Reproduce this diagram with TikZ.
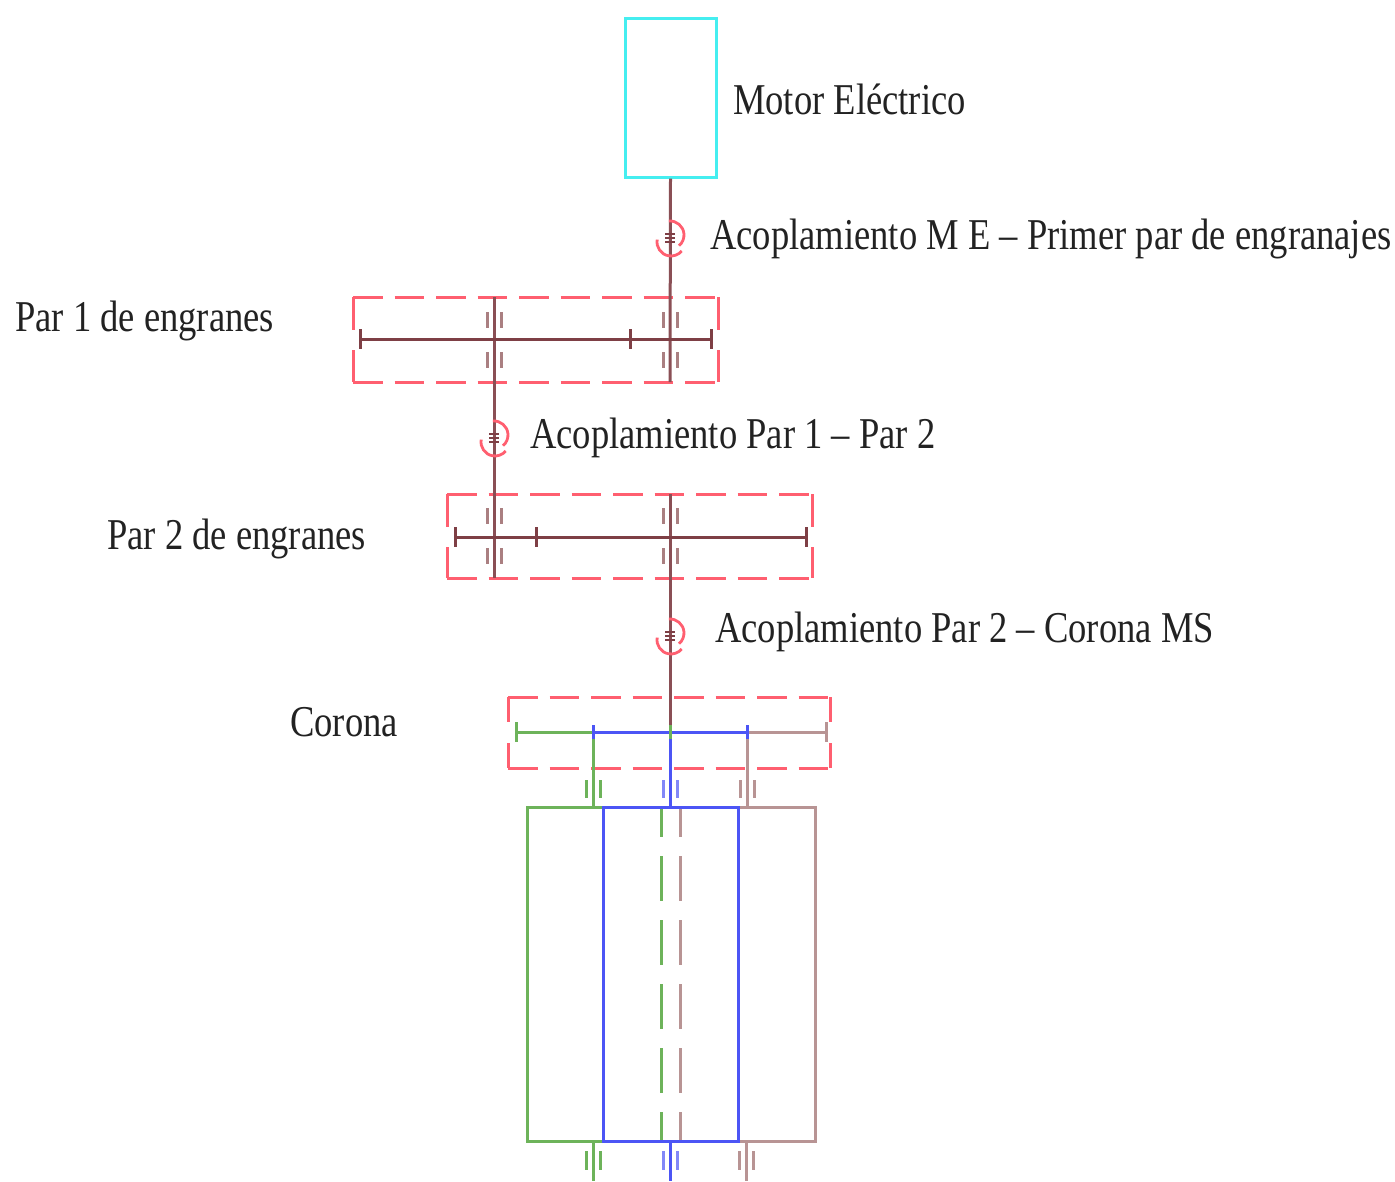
\documentclass[tikz,border=0pt]{standalone}
\usepackage{fontspec}
\setmainfont[FakeStretch=0.831]{Liberation Serif}
\definecolor{shaftc}{HTML}{8A4F55}
\definecolor{gearc}{HTML}{7E3F45}
\definecolor{redc}{HTML}{FF5F70}
\definecolor{cyanc}{HTML}{45EEF0}
\definecolor{greenc}{HTML}{6DB35A}
\definecolor{bluec}{HTML}{4C55F5}
\definecolor{brownc}{HTML}{B89494}
\definecolor{textc}{HTML}{222222}
\tikzset{
  x=1pt,y=-1pt,
  lbl/.style={anchor=base west,inner sep=0pt,text=textc,font=\fontsize{44}{48}\selectfont},
  shaft/.style={draw=shaftc,line width=3pt},
  gear/.style={draw=gearc,line width=3pt},
  brg/.style={line width=3pt,draw=#1},
  hdash/.style={draw=redc,line width=3pt,dash pattern=on 29.5pt off 12pt},
  vdash/.style={draw=redc,line width=3pt,dash pattern=on 33pt off 20pt},
  vdashc/.style={draw=redc,line width=3pt,dash pattern=on 25pt off 21pt},
  coup/.style={draw=redc,line width=2.8pt},
  solidc/.style={draw=#1,line width=3pt},
  axisd/.style={draw=#1,line width=3pt,dash pattern=on 45pt off 19pt,dash phase=15pt},
}
\newcommand{\brgpair}[4]{% x, y1, y2, colour
  \draw[brg=#4] (#1-6.5,#2)--(#1-6.5,#3);
  \draw[brg=#4] (#1+7,#2)--(#1+7,#3);}
\newcommand{\couplingmark}[2]{%
  \draw[coup] ([shift={(95:14pt)}]#1,#2-3) arc[start angle=95,end angle=-50,radius=14pt];
  \draw[coup] ([shift={(170:14pt)}]#1+1,#2+4) arc[start angle=170,end angle=320,radius=14pt];
  \foreach \d in {-4,0,4}{\draw[draw=gearc,line width=2.4pt] (#1-5,#2+\d)--(#1+5,#2+\d);}}
\begin{document}
\begin{tikzpicture}
\useasboundingbox (0,0) rectangle (1395,1181);
% motor
\node[draw=cyanc,line width=3pt,minimum width=91pt,minimum height=159pt,inner sep=0pt] (motor) at (670.5,97.5) {};
% labels
\node[lbl] (lm) at (733,114) {Motor Eléctrico};
\node[lbl] (la) at (710,249) {Acoplamiento M E – Primer par de engranajes};
\node[lbl] (lp1) at (15,331) {Par 1 de engranes};
\node[lbl] (lb) at (530,448) {Acoplamiento Par 1 – Par 2};
\node[lbl] (lp2) at (107,549) {Par 2 de engranes};
\node[lbl] (lc) at (715,642) {Acoplamiento Par 2 – Corona MS};
\node[lbl] (lco) at (290,736) {Corona};
% dashed boxes
\draw[hdash] (353,297)--(718,297); \draw[hdash] (353,382)--(718,382);
\draw[vdash] (353,297)--(353,382); \draw[vdash] (718,297)--(718,382);
\draw[hdash] (447,494)--(812,494); \draw[hdash] (447,578)--(812,578);
\draw[vdash] (447,494)--(447,578); \draw[vdash] (812,494)--(812,578);
\draw[hdash] (508,697)--(830,697); \draw[hdash] (508,768)--(830,768);
\draw[vdashc] (508,697)--(508,768); \draw[vdashc] (830,697)--(830,768);
% coordinates
\coordinate (s1a) at (670,382);
\coordinate (s2a) at (494,297); \coordinate (s2b) at (494,578);
\coordinate (s3a) at (670,494); \coordinate (s3b) at (670,732);
\coordinate (g1a) at (360,339); \coordinate (g1b) at (711,339);
\coordinate (g2a) at (455,537); \coordinate (g2b) at (806,537);
% shafts
\draw[shaft] (motor.south)--(s1a);
\draw[shaft] (s2a)--(s2b);
\draw[shaft] (s3a)--(s3b);
\draw[gear] (g1a)--(g1b);
\draw[gear] (g2a)--(g2b);
\foreach \x in {360,630,711}{\draw[gear] (\x,329)--(\x,349);}
\foreach \x in {455,536,806}{\draw[gear] (\x,527)--(\x,547);}
% bearings on gear pairs
\brgpair{494}{312}{328}{brownc!70!shaftc}\brgpair{494}{352}{368}{brownc!70!shaftc}
\brgpair{670}{312}{328}{brownc!70!shaftc}\brgpair{670}{352}{368}{brownc!70!shaftc}
\brgpair{494}{508}{524}{brownc!70!shaftc}\brgpair{494}{548}{564}{brownc!70!shaftc}
\brgpair{670}{508}{524}{brownc!70!shaftc}\brgpair{670}{548}{564}{brownc!70!shaftc}
% couplings
\couplingmark{670}{238}
\couplingmark{494}{438}
\couplingmark{670}{636}
% corona
\coordinate (c1) at (516,732); \coordinate (c2) at (593,732); \coordinate (c3) at (670,732); \coordinate (c4) at (747,732); \coordinate (c5) at (826,732);
\coordinate (t1) at (593,807); \coordinate (t2) at (670,807); \coordinate (t3) at (747,807);
\coordinate (b1) at (593,1141); \coordinate (b2) at (670,1141); \coordinate (b3) at (746,1141);
\coordinate (e1) at (593,1181); \coordinate (e2) at (670,1181); \coordinate (e3) at (746,1181);
\draw[solidc=brownc] (c4)--(c5);
\draw[solidc=brownc] (c5)++(0,-10)--++(0,20);
\draw[solidc=brownc] (c4)--(t3);
\draw[solidc=brownc] (738,807)--(815,807)--(815,1141)--(738,1141);
\draw[solidc=brownc] (b3)--(e3);
\draw[solidc=greenc] (c1)--(c2);
\draw[solidc=greenc] (c1)++(0,-10)--++(0,20);
\draw[solidc=greenc] (c2)--(t1);
\draw[solidc=greenc] (603,807)--(527,807)--(527,1141)--(603,1141);
\draw[solidc=greenc] (b1)--(e1);
\draw[axisd=greenc] (661,807)--(661,1141);
\draw[axisd=brownc] (680,807)--(680,1141);
\draw[solidc=bluec] (c2)--(c4);
\draw[solidc=bluec] (c3)--(t2);
\draw[solidc=bluec] (603,807) rectangle (738,1141);
\draw[solidc=bluec] (b2)--(e2);
\draw[solidc=bluec] (c2)++(0,-7)--++(0,14);
\draw[solidc=bluec] (c4)++(0,-7)--++(0,14);
\draw[solidc=greenc] (c3)++(0,-7)--++(0,14);
% lower bearings
\brgpair{593}{780}{798}{greenc}\brgpair{670}{780}{798}{bluec!70}\brgpair{747}{780}{798}{brownc}
\brgpair{593}{1151}{1170}{greenc}\brgpair{670}{1151}{1170}{bluec!70}\brgpair{746}{1151}{1170}{brownc}
\end{tikzpicture}
\end{document}
